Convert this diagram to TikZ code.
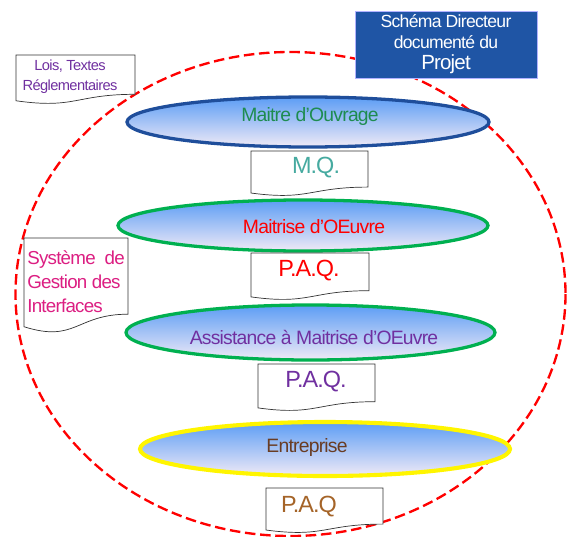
\documentclass[tikz,border=0pt]{standalone}
\usepackage{fontspec}
\setmainfont[LetterSpace=-4]{Liberation Sans}
\usepackage{tikz}
\usetikzlibrary{shapes.geometric}

\definecolor{moablue}{RGB}{31,78,155}
\definecolor{titleblue}{RGB}{31,85,165}
\definecolor{layergreen}{RGB}{0,176,80}
\definecolor{layeryellow}{RGB}{255,245,0}
\definecolor{fillblue}{RGB}{92,157,245}
\definecolor{filllav}{RGB}{240,234,246}
\definecolor{txtgreen}{RGB}{30,140,80}
\definecolor{txtteal}{RGB}{70,170,160}
\definecolor{txtpurple}{RGB}{112,48,160}
\definecolor{txtmagenta}{RGB}{220,30,130}
\definecolor{txtbrown}{RGB}{105,60,35}
\definecolor{txtorange}{RGB}{165,100,40}

% document box with a wavy bottom: x1, y1, x2, y2 (pixels, y downward)
\newcommand{\docshape}[4]{%
  \pgfmathsetmacro{\dochgt}{#4-#2}%
  \pgfmathsetmacro{\docmid}{(#1+#3)/2}%
  \draw[docline] (#1,#2) -- (#3,#2) -- (#3,#2+0.802*\dochgt)
    .. controls (\docmid,#2+0.802*\dochgt) and (\docmid,#2+1.107*\dochgt) .. (#1,#2+0.934*\dochgt) -- cycle;}

\begin{document}
\begin{tikzpicture}[x=0.03cm, y=-0.03cm,
  docline/.style={draw=black!80, line width=0.6pt, fill=white},
  layer/.style={ellipse, line width=2.8pt, top color=fillblue, bottom color=filllav, inner sep=0pt},
  every node/.style={font=\fontsize{16.5}{18}\selectfont}]
  \useasboundingbox (0,0) rectangle (571,536);

  % perimeter of the project
  \draw[red, line width=2pt, dash pattern=on 9pt off 4pt] (290.5,294) ellipse [x radius=275, y radius=242];

  % title
  \node[fill=titleblue, draw=blue!30, minimum width=5.46cm, minimum height=1.89cm, align=center, text=white,
        font=\fontsize{15}{18}\selectfont] (titre) at (446,44.5)
        {Schéma Directeur\\documenté du\\{\fontsize{17.5}{18}\selectfont Projet}};

  % side documents
  \docshape{16}{55}{135}{104}
  \node[text=txtpurple, align=center, font=\fontsize{12.5}{17}\selectfont] (lois) at (70,77) {Lois, Textes\\Réglementaires};
  \docshape{24}{238}{128}{333}
  \node[text=txtmagenta, align=left, font=\fontsize{16}{20.5}\selectfont] (sgi) at (76,282) {Système~~de\\Gestion des\\Interfaces};

  % layers
  \node[layer, draw=moablue, minimum width=10.86cm, minimum height=1.5cm] (moa) at (308,122) {};
  \node[text=txtgreen] (moatxt) at (310,117) {Maitre d'Ouvrage};
  \docshape{251}{151}{368}{196}
  \node[text=txtteal, font=\fontsize{20}{20}\selectfont] (mq) at (316,168) {M.Q.};

  \node[layer, draw=layergreen, minimum width=11.1cm, minimum height=1.53cm] (moe) at (303,225.5) {};
  \node[text=red] (moetxt) at (314,227) {Maitrise d'OEuvre};
  \docshape{251}{253}{369}{300}
  \node[text=red, font=\fontsize{20}{20}\selectfont] (paqmoe) at (309,271) {P.A.Q.};

  \node[layer, draw=layergreen, minimum width=11.07cm, minimum height=1.65cm] (amoe) at (310.5,332.5) {};
  \node[text=txtpurple] (amoetxt) at (314,337) {Assistance à Maitrise d'OEuvre};
  \docshape{258}{364}{375}{411}
  \node[text=txtpurple, font=\fontsize{20}{20}\selectfont] (paqamoe) at (316,382) {P.A.Q.};

  \node[layer, draw=layeryellow, line width=3.5pt, minimum width=11.1cm, minimum height=1.62cm] (ent) at (325,449) {};
  \node[text=txtbrown] (enttxt) at (307,447) {Entreprise};
  \docshape{266}{488}{383}{533}
  \node[text=txtorange, font=\fontsize{20}{20}\selectfont] (paqent) at (309,507) {P.A.Q};
\end{tikzpicture}
\end{document}
